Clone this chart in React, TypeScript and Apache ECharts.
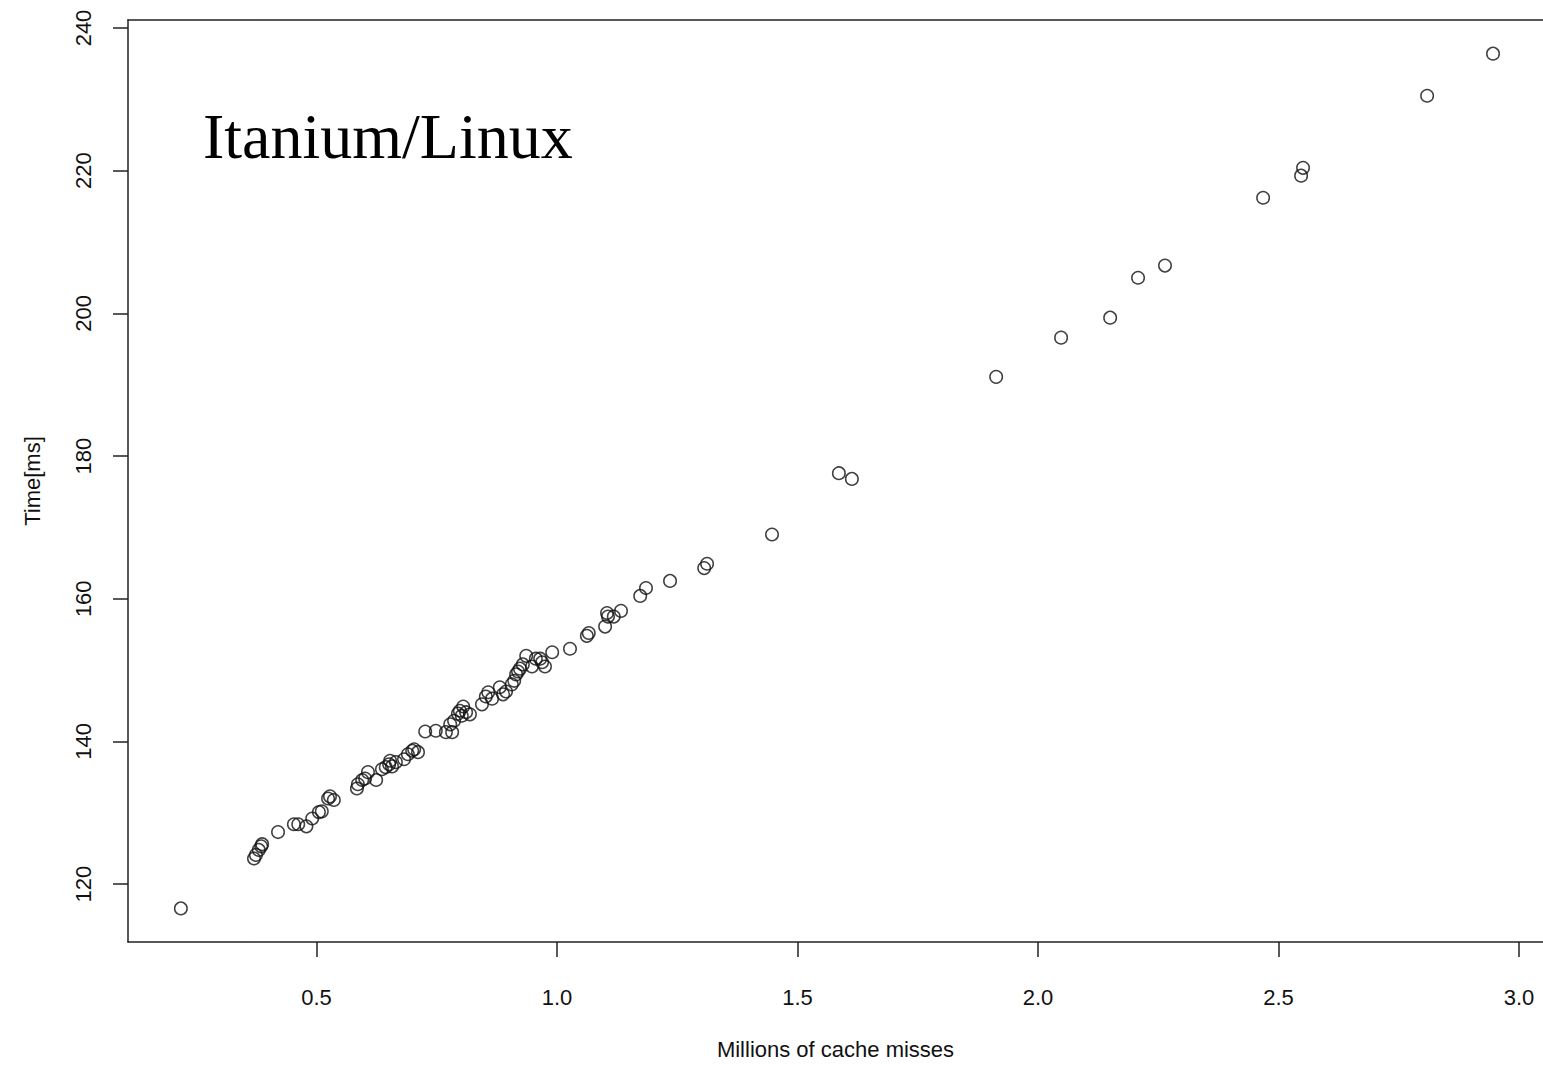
import React, { useEffect, useRef } from "react";
import * as echarts from "echarts";

const cacheMisses: number[] = [
  0.218,
  0.370, 0.374, 0.380, 0.385, 0.387,
  0.420,
  0.453, 0.462, 0.479, 0.491, 0.505, 0.511, 0.524, 0.528, 0.536,
  0.584, 0.586, 0.595, 0.601, 0.607, 0.624,
  0.636, 0.644, 0.651, 0.653, 0.657, 0.665,
  0.682, 0.690, 0.699, 0.703, 0.711,
  0.726, 0.748, 0.769, 0.782, 0.778, 0.786, 0.794, 0.798, 0.802, 0.811, 0.819, 0.805,
  0.844, 0.852, 0.857, 0.865, 0.881, 0.888, 0.894, 0.906, 0.911, 0.915, 0.919, 0.923, 0.929, 0.936, 0.948, 0.956, 0.965, 0.969, 0.975, 0.990,
  1.027, 1.062, 1.066, 1.100, 1.104, 1.106, 1.118, 1.133, 1.173, 1.185, 1.235, 1.306, 1.312, 1.447,
  1.586, 1.613, 1.913, 2.048, 2.150, 2.208, 2.264, 2.468, 2.547, 2.551, 2.809, 2.946,
];

const timeMs: number[] = [
  116.6,
  123.6, 124.1, 124.8, 125.3, 125.6,
  127.3,
  128.4, 128.4, 128.1, 129.2, 130.1, 130.2, 132.0, 132.3, 131.8,
  133.4, 134.0, 134.6, 134.8, 135.7, 134.6,
  136.1, 136.4, 136.8, 137.3, 136.5, 137.1,
  137.5, 138.2, 138.7, 138.9, 138.5,
  141.4, 141.5, 141.3, 141.3, 142.4, 142.9, 143.9, 144.3, 143.6, 144.1, 143.8, 144.9,
  145.2, 146.3, 146.9, 146.0, 147.6, 146.6, 147.0, 148.0, 148.5, 149.4, 149.8, 150.2, 150.8, 152.0, 150.5, 151.6, 151.6, 151.1, 150.5, 152.5,
  153.0, 154.8, 155.2, 156.1, 158.0, 157.5, 157.5, 158.3, 160.4, 161.5, 162.5, 164.3, 164.9, 169.0,
  177.6, 176.8, 191.1, 196.6, 199.4, 205.0, 206.7, 216.2, 219.3, 220.4, 230.5, 236.4,
];

const xTicks: number[] = [0.5, 1.0, 1.5, 2.0, 2.5, 3.0];
const yTicks: number[] = [120, 140, 160, 180, 200, 220, 240];

const xTitle = "Millions of cache misses";
const yTitle = "Time[ms]";
const panelLabel = "Itanium/Linux";

export default function App() {
  const ref = useRef<HTMLDivElement>(null);

  useEffect(() => {
    if (!ref.current) return;
    const chart = echarts.init(ref.current, undefined, { renderer: "svg" });
    const sans = "'Liberation Sans', Arial, sans-serif";
    const data = cacheMisses.map((x, i) => [x, timeMs[i]]);
    const xMin = 0.1081;
    const xMax = 3.0499;
    const boxLine = { show: true, onZero: false, lineStyle: { color: "#222", width: 1.5 } };
    chart.setOption({
      animation: false,
      backgroundColor: "#ffffff",
      grid: {
        left: 128,
        right: 0,
        top: 20,
        bottom: 111,
        show: false,
      },
      xAxis: [
        {
          type: "value",
          min: xMin,
          max: xMax,
          position: "bottom",
          name: xTitle,
          nameLocation: "middle",
          nameGap: 96,
          nameTextStyle: { fontFamily: sans, fontSize: 22, color: "#111" },
          axisLine: boxLine,
          splitLine: { show: false },
          axisTick: {
            show: true,
            customValues: xTicks,
            length: 15,
            lineStyle: { color: "#222", width: 1.5 },
          },
          axisLabel: {
            customValues: xTicks,
            formatter: (v: number) => v.toFixed(1),
            margin: 44,
            fontFamily: sans,
            fontSize: 22,
            color: "#111",
          },
        },
        {
          type: "value",
          min: xMin,
          max: xMax,
          position: "top",
          axisLine: boxLine,
          splitLine: { show: false },
          axisTick: { show: false },
          axisLabel: { show: false },
        },
      ],
      yAxis: {
        type: "value",
        min: 111.89,
        max: 241.12,
        name: yTitle,
        nameLocation: "middle",
        nameGap: 85,
        nameRotate: 90,
        nameTextStyle: { fontFamily: sans, fontSize: 22, color: "#111" },
        axisLine: boxLine,
        splitLine: { show: false },
        axisTick: {
          show: true,
          customValues: yTicks,
          length: 15,
          lineStyle: { color: "#222", width: 1.5 },
        },
        axisLabel: {
          customValues: yTicks,
          rotate: 90,
          margin: 34,
          fontFamily: sans,
          fontSize: 22,
          color: "#111",
        },
      },
      graphic: [
        {
          type: "text",
          left: 203,
          top: 104,
          style: {
            text: panelLabel,
            fontFamily: "'Liberation Serif', 'Times New Roman', serif",
            fontSize: 64,
            fill: "#000",
          },
        },
      ],
      series: [
        {
          type: "scatter",
          xAxisIndex: 0,
          data,
          symbol: "circle",
          symbolSize: 12.5,
          itemStyle: {
            color: "transparent",
            borderColor: "#111",
            borderWidth: 1.5,
          },
        },
      ],
    });
    return () => chart.dispose();
  }, []);

  return (
    <div
      ref={ref}
      style={{ position: "absolute", left: 0, top: 0, width: 1543, height: 1065 }}
    />
  );
}
